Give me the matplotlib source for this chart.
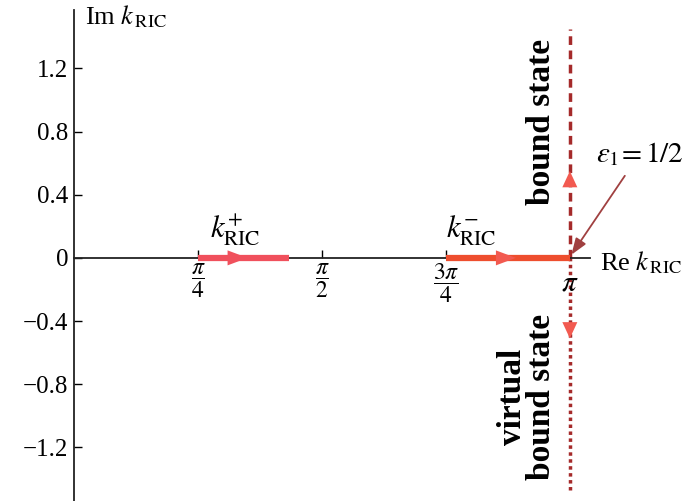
import numpy as np
import matplotlib
matplotlib.use("Agg")
import matplotlib.pyplot as plt

plt.rcParams['font.family'] = ['Liberation Serif', 'DejaVu Serif']
plt.rcParams['mathtext.fontset'] = 'stix'

# data
yticks = [-1.2, -0.8, -0.4, 0, 0.4, 0.8, 1.2]
ytick_labels = ['\u22121.2', '\u22120.8', '\u22120.4', '0', '0.4', '0.8', '1.2']
xticks = [np.pi / 4, np.pi / 2, 3 * np.pi / 4, np.pi]
xtick_labels = [r'$\dfrac{\pi}{4}$', r'$\dfrac{\pi}{2}$', r'$\dfrac{3\pi}{4}$', '']
kplus = [np.pi / 4, 1.365]       # k_RIC^+ range
kminus = [3 * np.pi / 4, np.pi]  # k_RIC^- range
bound_top = 1.45
virtual_bottom = -1.47

fig = plt.figure(figsize=(6.91, 5.01), dpi=100)
ax = fig.add_axes([0.107, 0.0, 0.747, 0.98])
ax.set_xlim(0, 3.27)
ax.set_ylim(-1.54, 1.57)

ax.spines['top'].set_visible(False)
ax.spines['right'].set_visible(False)
ax.spines['bottom'].set_position(('data', 0))
for s in ['left', 'bottom']:
    ax.spines[s].set_linewidth(1.3)
    ax.spines[s].set_color('#222222')

ax.set_yticks(yticks)
ax.set_yticklabels(ytick_labels, fontsize=18)
ax.set_xticks(xticks)
ax.set_xticklabels(xtick_labels, fontsize=17)
ax.tick_params(axis='y', direction='in', length=6, width=1, pad=4)
ax.tick_params(axis='x', direction='in', length=6, width=1, pad=3)
# pi label drawn by hand, larger and centred like the fractions
ax.text(np.pi, -0.165, r'$\pi$', fontsize=21, ha='center', va='center', zorder=5)

# vertical lines at pi
ax.plot([np.pi, np.pi], [0, bound_top], color='#A52A2A', lw=2.5, ls=(0, (2.5, 1.6)), zorder=2)
ax.plot([np.pi, np.pi], [virtual_bottom, 0], color='#A52A2A', lw=2.5, ls=(0, (1, 1)), zorder=2)

# segments
ax.plot(kplus, [0, 0], color='#F0505C', lw=4.5, solid_capstyle='butt', zorder=3)
ax.plot(kminus, [0, 0], color='#EE4E2E', lw=4.5, solid_capstyle='butt', zorder=3)

def arrow(x0, y0, x1, y1, c, hl=0.8):
    ax.annotate('', xy=(x1, y1), xytext=(x0, y0),
                arrowprops=dict(arrowstyle='-|>,head_length=%g,head_width=0.3' % hl,
                                color=c, lw=0, shrinkA=0, shrinkB=0, mutation_scale=18),
                zorder=4)

arrow(0.96, 0, 1.10, 0, '#F0505C')
arrow(2.66, 0, 2.80, 0, '#F25A50')
arrow(np.pi, 0.40, np.pi, 0.55, '#F25A50', 0.65)
arrow(np.pi, -0.36, np.pi, -0.51, '#F25A50', 0.65)

# labels
ax.text(0.86, 0.06, r'$k^{+}_{\mathrm{RIC}}$', fontsize=22, ha='left', va='bottom')
ax.text(2.36, 0.06, r'$k^{-}_{\mathrm{RIC}}$', fontsize=22, ha='left', va='bottom')
ax.text(0.07, 1.53, r'Im $k_{\,\mathrm{RIC}}$', fontsize=19, ha='left', va='center')
ax.text(3.33, -0.03, r'Re $k_{\,\mathrm{RIC}}$', fontsize=19, ha='left', va='center',
        clip_on=False)
ax.text(2.962, 0.86, 'bound state', rotation=90, fontsize=24, fontweight='bold',
        ha='center', va='center')
ax.text(2.87, -0.88, 'virtual\nbound state', rotation=90, fontsize=24, fontweight='bold',
        ha='center', va='center', linespacing=0.95)

ax.text(3.31, 0.66, r'$\varepsilon_1\!=1/2$', fontsize=21, ha='left', va='center',
        clip_on=False)
ax.annotate('', xy=(np.pi + 0.01, 0.02), xytext=(3.49, 0.52), annotation_clip=False,
            arrowprops=dict(arrowstyle='-|>,head_length=0.55,head_width=0.2',
                            color='#A04040', lw=1.3, shrinkA=0, shrinkB=0,
                            mutation_scale=18))

fig.savefig('out.png', dpi=100)
